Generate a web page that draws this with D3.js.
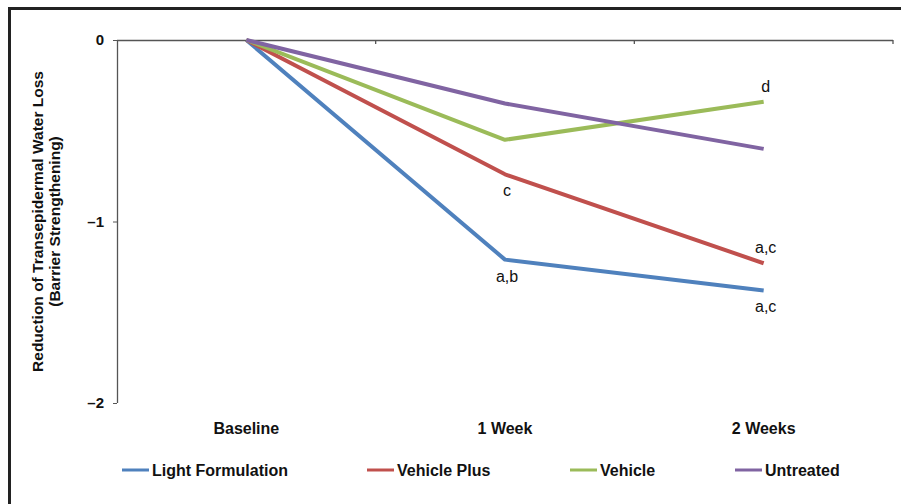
<!DOCTYPE html>
<html>
<head>
<meta charset="utf-8">
<script src="https://cdn.jsdelivr.net/npm/d3@7"></script>
<style>
  body { margin: 0; background: #fff; }
  svg text { font-family: "Liberation Sans", Arial, sans-serif; fill: #111; }
</style>
</head>
<body>
<svg id="chart" width="901" height="504"></svg>
<script>
// chart data
const categories = ["Baseline", "1 Week", "2 Weeks"];
const seriesNames = ["Light Formulation", "Vehicle Plus", "Vehicle", "Untreated"];
const seriesColors = ["#4f81bd", "#c0504d", "#9bbb59", "#8064a2"];
const lightFormulation = [0, -1.21, -1.38];
const vehiclePlus = [0, -0.74, -1.23];
const vehicle = [0, -0.55, -0.34];
const untreated = [0, -0.35, -0.60];
const yTicks = [0, -1, -2];
// significance letters: [series index, category index, text, above?]
const notes = [
  [0, 1, "a,b", false],
  [1, 1, "c", false],
  [2, 2, "d", true],
  [1, 2, "a,c", true],
  [0, 2, "a,c", false]
];

const seriesValues = [lightFormulation, vehiclePlus, vehicle, untreated];

var margin = {top: 40, left: 117, right: 8, bottom: 101};
var width = 901 - margin.left - margin.right,
    height = 504 - margin.top - margin.bottom;

var svg = d3.select("#chart");

// outer frame (left and top edges visible)
svg.append("path")
  .attr("d", "M9.5,504 V8.5 H901")
  .attr("fill", "none")
  .attr("stroke", "#222")
  .attr("stroke-width", 3);

var g = svg.append("g")
  .attr("transform", "translate(" + margin.left + "," + margin.top + ")");

var x = d3.scaleBand().domain(categories).range([0, width]);
var y = d3.scaleLinear().domain([0, -2]).range([0, height]);

// y axis
var yAxis = g.append("g")
  .call(d3.axisLeft(y).tickValues(yTicks).tickSize(4).tickPadding(9)
    .tickFormat(function(d) { return d === 0 ? "0" : "\u2013" + Math.abs(d); }));
yAxis.select(".domain").attr("stroke", "#555").attr("stroke-width", 1.3).attr("d", "M0.5,0V" + height);
yAxis.selectAll(".tick line").attr("stroke", "#555");
yAxis.selectAll("text").attr("font-size", 15).attr("font-weight", "bold").style("font-family", "'Liberation Sans', Arial, sans-serif").attr("fill", "#111");

// x axis along zero line
var xAxis = g.append("g")
  .call(d3.axisBottom(x).tickSize(0).tickFormat(""));
xAxis.select(".domain").attr("stroke", "#555").attr("stroke-width", 1.3).attr("d", "M0,0.5H" + width);
xAxis.selectAll(".tick").remove();
xAxis.selectAll(".sep")
  .data(categories)
  .enter().append("line")
  .attr("class", "sep")
  .attr("x1", function(d) { return x(d) + x.bandwidth(); })
  .attr("x2", function(d) { return x(d) + x.bandwidth(); })
  .attr("y1", 0).attr("y2", 4)
  .attr("stroke", "#555").attr("stroke-width", 1.3);

// category labels below the plot
g.selectAll(".cat")
  .data(categories)
  .enter().append("text")
  .attr("class", "cat")
  .attr("x", function(d) { return x(d) + x.bandwidth() / 2; })
  .attr("y", height + 31)
  .attr("text-anchor", "middle")
  .attr("font-size", 16)
  .attr("font-weight", "bold")
  .text(function(d) { return d; });

// y title
var yt = svg.append("text")
  .attr("transform", "translate(43," + (margin.top + height / 2) + ") rotate(-90)")
  .attr("text-anchor", "middle")
  .attr("font-size", 15.5)
  .attr("font-weight", "bold");
yt.append("tspan").attr("x", 0).attr("dy", 0).text("Reduction of Transepidermal Water Loss");
yt.append("tspan").attr("x", 0).attr("dy", 17).text("(Barrier Strengthening)");

// lines
var line = d3.line()
  .x(function(d, i) { return x(categories[i]) + x.bandwidth() / 2; })
  .y(function(d) { return y(d); });

g.selectAll(".series")
  .data(seriesValues)
  .enter().append("path")
  .attr("class", "series")
  .attr("d", line)
  .attr("fill", "none")
  .attr("stroke", function(d, i) { return seriesColors[i]; })
  .attr("stroke-width", 4)
  .attr("stroke-linejoin", "round");

// significance letters
g.selectAll(".note")
  .data(notes)
  .enter().append("text")
  .attr("class", "note")
  .attr("x", function(d) { return x(categories[d[1]]) + x.bandwidth() / 2 + 2; })
  .attr("y", function(d) { return y(seriesValues[d[0]][d[1]]) + (d[3] ? -10 : 22); })
  .attr("text-anchor", "middle")
  .attr("font-size", 16)
  .text(function(d) { return d[2]; });

// legend
var legendX = [122, 367, 570, 735];
var legend = svg.selectAll(".leg")
  .data(seriesNames)
  .enter().append("g")
  .attr("class", "leg")
  .attr("transform", function(d, i) { return "translate(" + legendX[i] + ",470)"; });
legend.append("line")
  .attr("x1", 0).attr("x2", 27)
  .attr("stroke", function(d, i) { return seriesColors[i]; })
  .attr("stroke-width", 3);
legend.append("text")
  .attr("x", 30)
  .attr("y", 6)
  .attr("font-size", 16)
  .attr("font-weight", "bold")
  .text(function(d) { return d; });
</script>
</body>
</html>
